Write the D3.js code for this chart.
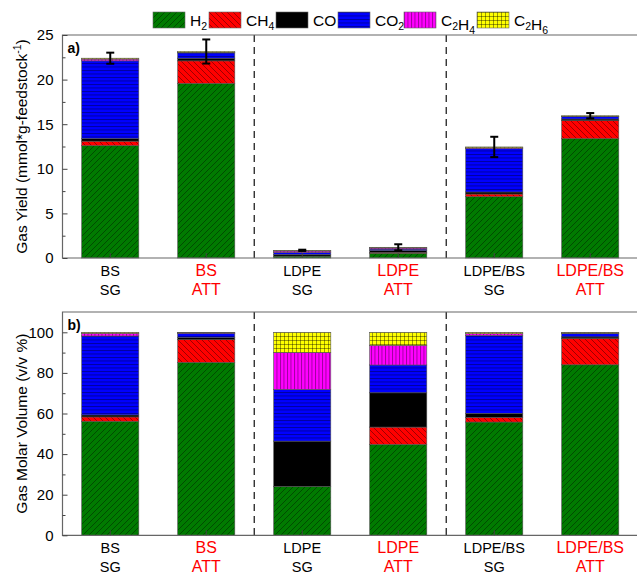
<!DOCTYPE html>
<html>
<head>
<meta charset="utf-8">
<script src="https://cdn.jsdelivr.net/npm/d3@7"></script>
<style>
  html, body { margin: 0; padding: 0; background: #fff; }
  svg text { font-family: Arial, "Liberation Sans", sans-serif; fill: #000; }
  .axis .domain { stroke: #444; }
  .axis line { stroke: #444; }
  .axis text { font-size: 15px; font-family: Arial, "Liberation Sans", sans-serif; fill: #000; }
</style>
</head>
<body>
<div id="main"></div>
<script>
// categories (two-line x labels)
var labelTop = ["BS", "BS", "LDPE", "LDPE", "LDPE/BS", "LDPE/BS"];
var labelBottom = ["SG", "ATT", "SG", "ATT", "SG", "ATT"];
var gases = ["H2", "CH4", "CO", "CO2", "C2H4", "C2H6"];

// a) gas yield, mmol/g feedstock
var yieldH2   = [12.6, 19.58, 0.21, 0.54, 6.87, 13.38];
var yieldCH4  = [0.5,  2.52,  0.0,  0.10, 0.30, 2.02];
var yieldCO   = [0.3,  0.3,   0.19, 0.20, 0.23, 0.18];
var yieldCO2  = [8.7,  0.6,   0.22, 0.16, 4.85, 0.26];
var yieldC2H4 = [0.2,  0.05,  0.16, 0.12, 0.10, 0.05];
var yieldC2H6 = [0.1,  0.1,   0.08, 0.08, 0.10, 0.06];
var yieldErr  = [0.62, 1.35,  0.07, 0.34, 1.14, 0.3];

// b) gas molar volume, v/v %
var volH2   = [56.2, 85.2, 24.1, 44.8, 55.8, 84.0];
var volCH4  = [2.1,  11.2, 0.0,  8.5,  2.3,  12.9];
var volCO   = [1.0,  1.1,  22.3, 16.9, 2.0,  0.8];
var volCO2  = [38.9, 2.0,  25.5, 13.7, 38.4, 1.6];
var volC2H4 = [1.3,  0.2,  18.1, 9.7,  0.8,  0.3];
var volC2H6 = [0.5,  0.3,  10.0, 6.4,  0.7,  0.4];

var yieldTicks = [0, 5, 10, 15, 20, 25];
var volTicks = [0, 20, 40, 60, 80, 100];

var width = 637, height = 575;
var left = 62.5, right = 638;

var colors = {H2: "#007a00", CH4: "#ff0000", CO: "#000000", CO2: "#0000ff", C2H4: "#ff00ff", C2H6: "#ffff00"};

var svg = d3.select("#main").append("svg")
    .attr("width", width)
    .attr("height", height);

// hatch patterns
var defs = svg.append("defs");
function pattern(id, color, paths, w, h) {
    var p = defs.append("pattern")
        .attr("id", id)
        .attr("patternUnits", "userSpaceOnUse")
        .attr("width", w).attr("height", h);
    p.append("rect").attr("width", w).attr("height", h).attr("fill", color);
    paths.forEach(function(d) {
        p.append("path").attr("d", d)
            .attr("stroke", "#000").attr("stroke-opacity", 0.55)
            .attr("stroke-width", 0.7).attr("fill", "none");
    });
}
pattern("p-H2", colors.H2, ["M0,6 L6,0", "M-1,1 L1,-1", "M5,7 L7,5"], 6, 6);
pattern("p-CH4", colors.CH4, ["M0,0 L6,6", "M-1,5 L1,7", "M5,-1 L7,1"], 6, 6);
pattern("p-CO", colors.CO, [], 6, 6);
pattern("p-CO2", colors.CO2, ["M0,0.5 L6,0.5"], 6, 3.5);
pattern("p-C2H4", colors.C2H4, ["M0.5,0 L0.5,6"], 3.5, 6);
pattern("p-C2H6", colors.C2H6, ["M0.5,0 L0.5,4", "M0,0.5 L4,0.5"], 4, 4);

var x = d3.scaleBand()
    .domain(d3.range(labelTop.length))
    .range([left, right])
    .paddingInner(0.405)
    .paddingOuter(0.2);

function toRows(series) {
    return labelTop.map(function(_, i) {
        var row = {i: i};
        gases.forEach(function(g, k) { row[g] = series[k][i]; });
        return row;
    });
}

function panel(top, bottom, domain, ticks, minor, series, err, tag, title) {
    var y = d3.scaleLinear().domain(domain).range([bottom, top]);
    var g = svg.append("g");

    var stacked = d3.stack().keys(gases)(toRows(series));
    g.selectAll("g.layer")
        .data(stacked)
        .enter().append("g")
        .attr("class", "layer")
        .attr("fill", function(d) { return "url(#p-" + d.key + ")"; })
        .selectAll("rect")
        .data(function(d) { return d; })
        .enter().append("rect")
        .attr("x", function(d) { return x(d.data.i); })
        .attr("width", x.bandwidth())
        .attr("y", function(d) { return y(d[1]); })
        .attr("height", function(d) { return Math.max(0, y(d[0]) - y(d[1])); })
        .attr("stroke", "#555")
        .attr("stroke-width", 0.6);

    if (err) {
        var totals = labelTop.map(function(_, i) {
            return d3.sum(series, function(s) { return s[i]; });
        });
        var eb = g.selectAll("g.err")
            .data(totals)
            .enter().append("g")
            .attr("stroke", "#000")
            .attr("stroke-width", 2);
        eb.append("line")
            .attr("x1", function(d, i) { return x(i) + x.bandwidth() / 2; })
            .attr("x2", function(d, i) { return x(i) + x.bandwidth() / 2; })
            .attr("y1", function(d, i) { return y(d - err[i]); })
            .attr("y2", function(d, i) { return y(d + err[i]); });
        [-1, 1].forEach(function(s) {
            eb.append("line")
                .attr("x1", function(d, i) { return x(i) + x.bandwidth() / 2 - 4; })
                .attr("x2", function(d, i) { return x(i) + x.bandwidth() / 2 + 4; })
                .attr("y1", function(d, i) { return y(d + s * err[i]); })
                .attr("y2", function(d, i) { return y(d + s * err[i]); });
        });
    }

    // dashed separators
    [1, 3].forEach(function(i) {
        var xs = (x(i) + x.bandwidth() + x(i + 1)) / 2;
        g.append("line")
            .attr("x1", xs).attr("x2", xs)
            .attr("y1", top).attr("y2", bottom)
            .attr("stroke", "#222")
            .attr("stroke-width", 1.3)
            .attr("stroke-dasharray", "7,5");
    });

    // frame
    g.append("path")
        .attr("d", "M" + right + "," + top + "H" + left + "V" + bottom + "H" + right)
        .attr("fill", "none")
        .attr("stroke", "#666")
        .attr("stroke-width", 1.2);

    g.append("g")
        .attr("class", "axis")
        .attr("transform", "translate(" + left + ",0)")
        .call(d3.axisLeft(y).tickValues(ticks).tickSize(-5).tickPadding(9))
        .call(function(a) { a.select(".domain").remove(); });

    g.append("g")
        .attr("class", "axis")
        .attr("transform", "translate(" + left + ",0)")
        .call(d3.axisLeft(y).tickValues(minor).tickSize(-3).tickFormat(""))
        .call(function(a) { a.select(".domain").remove(); });

    g.append("g")
        .attr("class", "axis")
        .attr("transform", "translate(0," + bottom + ")")
        .call(d3.axisBottom(x).tickSize(-5).tickFormat(""))
        .call(function(a) { a.select(".domain").remove(); });

    var lab = g.selectAll("g.xlab")
        .data(labelTop)
        .enter().append("text")
        .attr("text-anchor", "middle")
        .attr("x", function(d, i) { return x(i) + x.bandwidth() / 2; })
        .attr("y", bottom + 17.5)
        .style("font-size", function(d, i) { return i % 2 ? "16px" : "14.5px"; })
        .style("fill", function(d, i) { return i % 2 ? "#ff0000" : "#000"; });
    lab.append("tspan").text(function(d) { return d; });
    lab.append("tspan")
        .attr("x", function(d, i) { return x(i) + x.bandwidth() / 2; })
        .attr("dy", function(d, i) { return i % 2 ? 19.5 : 19; })
        .text(function(d, i) { return labelBottom[i]; });

    g.append("text")
        .attr("x", left + 5).attr("y", top + 18)
        .style("font-size", "14px").style("font-weight", "bold")
        .text(tag);

    var t = g.append("text")
        .attr("transform", "translate(27," + ((top + bottom) / 2) + ") rotate(-90)")
        .attr("text-anchor", "middle")
        .style("font-size", "15.5px");
    title(t);
}

panel(35, 258, [0, 25], yieldTicks, [2.5, 7.5, 12.5, 17.5, 22.5],
    [yieldH2, yieldCH4, yieldCO, yieldCO2, yieldC2H4, yieldC2H6], yieldErr, "a)",
    function(t) {
        t.append("tspan").text("Gas Yield (mmol*g-feedstock");
        t.append("tspan").attr("dy", -6).style("font-size", "10.5px").text("-1");
        t.append("tspan").attr("dy", 6).text(")");
    });

panel(312, 535.3, [0, 110], volTicks, [10, 30, 50, 70, 90],
    [volH2, volCH4, volCO, volCO2, volC2H4, volC2H6], null, "b)",
    function(t) { t.text("Gas Molar Volume (v/v %)"); });

// legend
var legendX = [153, 209, 276, 338, 404, 477];
var leg = svg.selectAll("g.legend")
    .data(gases)
    .enter().append("g")
    .attr("transform", function(d, i) { return "translate(" + legendX[i] + ",12)"; });
leg.append("rect")
    .attr("width", 32).attr("height", 16)
    .attr("fill", function(d) { return "url(#p-" + d + ")"; })
    .attr("stroke", "#666").attr("stroke-width", 0.6);
var lt = leg.append("text")
    .attr("x", 37).attr("y", 14)
    .style("font-size", "15.5px");
lt.each(function(d) {
    var el = d3.select(this);
    var parts = d.match(/[A-Z][a-z]?|\d+/g);
    parts.forEach(function(p) {
        if (/\d/.test(p)) {
            el.append("tspan").attr("dy", 4).style("font-size", "10.5px").text(p);
            el.append("tspan").attr("dy", -4).text("");
        } else {
            el.append("tspan").text(p);
        }
    });
});
</script>
</body>
</html>
